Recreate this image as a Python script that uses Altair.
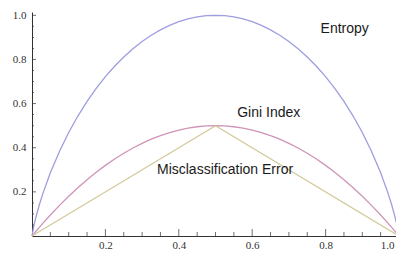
import altair as alt
import pandas as pd

# ---- data ----
p_vals = [0, 0.005, 0.01, 0.02, 0.03, 0.05, 0.075, 0.1, 0.125, 0.15, 0.175, 0.2, 0.225, 0.25,
          0.275, 0.3, 0.325, 0.35, 0.375, 0.4, 0.425, 0.45, 0.475, 0.5, 0.525, 0.55, 0.575,
          0.6, 0.625, 0.65, 0.675, 0.7, 0.725, 0.75, 0.775, 0.8, 0.825, 0.85, 0.875, 0.9,
          0.925, 0.95, 0.97, 0.98, 0.99, 0.995, 1.0]
entropy = [0, 0.0454, 0.0808, 0.1414, 0.1944, 0.2864, 0.3843, 0.4690, 0.5436, 0.6098, 0.6691,
           0.7219, 0.7692, 0.8113, 0.8484, 0.8813, 0.9097, 0.9341, 0.9544, 0.9710, 0.9837,
           0.9928, 0.9982, 1.0, 0.9982, 0.9928, 0.9837, 0.9710, 0.9544, 0.9341, 0.9097,
           0.8813, 0.8484, 0.8113, 0.7692, 0.7219, 0.6691, 0.6098, 0.5436, 0.4690, 0.3843,
           0.2864, 0.1944, 0.1414, 0.0808, 0.0454, 0]
gini = [0, 0.0100, 0.0198, 0.0392, 0.0582, 0.0950, 0.1388, 0.1800, 0.2188, 0.2550, 0.2888,
        0.3200, 0.3488, 0.3750, 0.3988, 0.4200, 0.4388, 0.4550, 0.4688, 0.4800, 0.4888,
        0.4950, 0.4988, 0.5, 0.4988, 0.4950, 0.4888, 0.4800, 0.4688, 0.4550, 0.4388,
        0.4200, 0.3988, 0.3750, 0.3488, 0.3200, 0.2888, 0.2550, 0.2188, 0.1800, 0.1388,
        0.0950, 0.0582, 0.0392, 0.0198, 0.0100, 0]
mis_p = [0, 0.5, 1.0]
misclass = [0, 0.5, 0]

series_names = ["Entropy", "Gini Index", "Misclassification Error"]
series_colors = ["#9d9de0", "#cf93b8", "#d3ca9c"]

label_text = ["Entropy", "Gini Index", "Misclassification Error"]
label_p = [0.852, 0.645, 0.526]
label_y = [0.939, 0.558, 0.298]

tick_labels = [0.2, 0.4, 0.6, 0.8, 1.0]
x_minor = [0.05, 0.1, 0.15, 0.25, 0.3, 0.35, 0.45, 0.5, 0.55, 0.65, 0.7, 0.75, 0.85, 0.9, 0.95]
y_minor = [0.05, 0.1, 0.15, 0.25, 0.3, 0.35, 0.45, 0.5, 0.55, 0.65, 0.7, 0.75, 0.85, 0.9, 0.95]

# ---- tables ----
rows = []
for p, v in zip(p_vals, entropy):
    rows.append({"p": p, "v": v, "s": "Entropy"})
for p, v in zip(p_vals, gini):
    rows.append({"p": p, "v": v, "s": "Gini Index"})
for p, v in zip(mis_p, misclass):
    rows.append({"p": p, "v": v, "s": "Misclassification Error"})
df = pd.DataFrame(rows)
labels_df = pd.DataFrame({"t": label_text, "p": label_p, "v": label_y})
xmaj_df = pd.DataFrame({"t": tick_labels})
xmin_df = pd.DataFrame({"t": x_minor})
ymaj_df = pd.DataFrame({"t": tick_labels})
ymin_df = pd.DataFrame({"t": y_minor})

AX = "#333333"
xscale = alt.Scale(domain=[0, 1.0], nice=False, zero=False, range=[0, 367])
yscale = alt.Scale(domain=[0, 1.015], nice=False, zero=False)

xaxis = alt.Axis(values=tick_labels, ticks=False, grid=False, title=None, domainColor=AX,
                 domainWidth=1, labelFont="Liberation Serif", labelFontSize=11,
                 labelColor=AX, labelPadding=3, format=".1f",
                 labelFlush=5, labelFlushOffset=-5)
yaxis = alt.Axis(values=tick_labels, ticks=False, grid=False, title=None, domainColor=AX,
                 domainWidth=1, labelFont="Liberation Serif", labelFontSize=11,
                 labelColor=AX, labelPadding=6, format=".1f")

lines = alt.Chart(df).mark_line(strokeWidth=1.3).encode(
    x=alt.X("p:Q", scale=xscale, axis=xaxis),
    y=alt.Y("v:Q", scale=yscale, axis=yaxis),
    color=alt.Color("s:N", scale=alt.Scale(domain=series_names, range=series_colors), legend=None),
    detail="s:N",
)

def xticks(data, size):
    return alt.Chart(data).mark_tick(orient="vertical", size=size, thickness=1, color=AX,
                                     yOffset=-size / 2).encode(
        x=alt.X("t:Q", scale=xscale), y=alt.datum(0))

def yticks(data, size):
    return alt.Chart(data).mark_tick(orient="horizontal", size=size, thickness=1, color=AX,
                                     xOffset=size / 2).encode(
        y=alt.Y("t:Q", scale=yscale), x=alt.datum(0))

texts = alt.Chart(labels_df).mark_text(font="Liberation Sans", fontSize=14, color="#1a1a1a",
                                       align="center", baseline="middle").encode(
    x=alt.X("p:Q", scale=xscale), y=alt.Y("v:Q", scale=yscale), text="t:N")

chart = alt.layer(
    lines, xticks(xmaj_df, 7), xticks(xmin_df, 4), yticks(ymaj_df, 4), yticks(ymin_df, 2), texts
).properties(
    width=364, height=224,
    autosize=alt.AutoSizeParams(type="none"),
    padding={"left": 24, "top": 4, "right": 0, "bottom": 16},
    background="white",
).configure_view(stroke=None)

chart.save("out.html", embed_options={"renderer": "svg", "actions": False})
